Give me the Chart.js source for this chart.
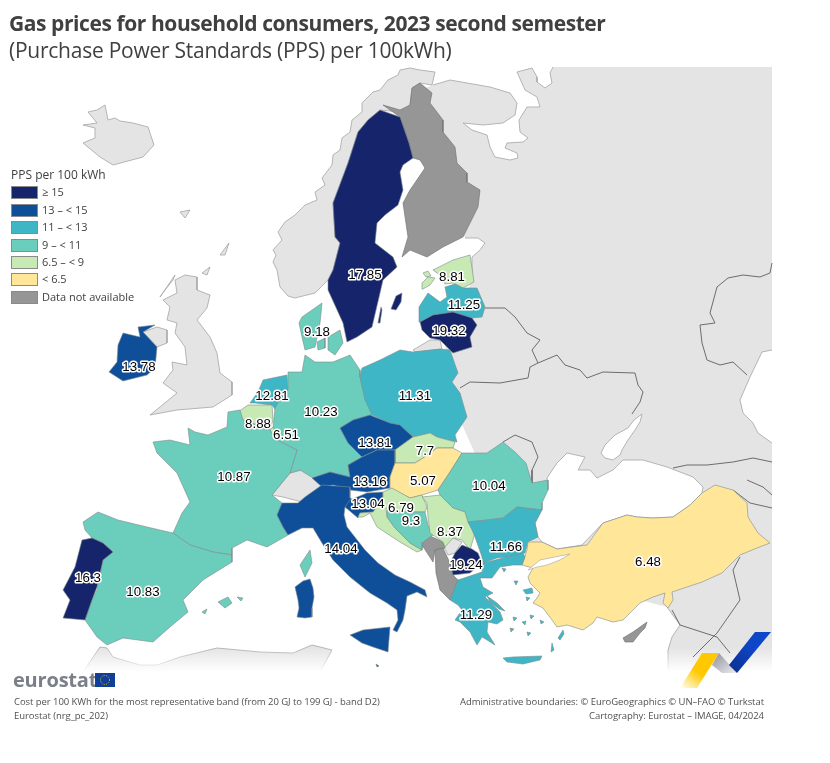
<!DOCTYPE html>
<html>
<head>
<meta charset="utf-8">
<title>Gas prices for household consumers</title>
<script src="https://cdn.jsdelivr.net/npm/chart.js@4"></script>
<style>
    body { margin: 0; background: #fff; font-family: "Open Sans", sans-serif; color: #404040; }
    #page { position: relative; width: 830px; height: 763px; overflow: hidden; }
    #map { position: absolute; left: 0; top: 0; }
    .txt { position: absolute; white-space: nowrap; }
    #title { left: 9px; top: 9px; font-size: 21px; font-weight: 700; letter-spacing: -0.42px; }
    #subtitle { left: 9px; top: 36px; font-size: 21px; letter-spacing: -0.25px; }
    #legendTitle { left: 11px; top: 166px; font-size: 12px; }
    .swatch { position: absolute; left: 11px; width: 25px; height: 11px; border: 1px solid #8a8a8a; }
    .legendText { left: 42px; font-size: 11px; }
    .foot { font-size: 9.5px; color: #505050; letter-spacing: -0.06px; }
    #brand { left: 13px; top: 666px; font-size: 20px; font-weight: 700; color: #7b7f8a; letter-spacing: -0.2px; }
</style>
</head>
<body>
<div id="page">
    <canvas id="map" width="830" height="763"></canvas>
    <div class="txt" id="title">Gas prices for household consumers, 2023 second semester</div>
    <div class="txt" id="subtitle">(Purchase Power Standards (PPS) per 100kWh)</div>
    <div class="txt" id="legendTitle">PPS per 100 kWh</div>
    <div id="legend"></div>
    <div class="txt" id="brand">eurostat</div>
    <svg style="position:absolute;left:95px;top:673px" width="20" height="14">
        <rect width="20" height="14" fill="#0f3f96"/>
        <circle cx="10" cy="7" r="4.5" fill="none" stroke="#e8c020" stroke-width="1" stroke-dasharray="1 1.4"/>
    </svg>
    <div class="txt foot" style="left:14px;top:695px">Cost per 100 KWh for the most representative band (from 20 GJ to 199 GJ - band D2)</div>
    <div class="txt foot" style="left:14px;top:709px">Eurostat (nrg_pc_202)</div>
    <div class="txt foot" style="right:66px;top:695px">Administrative boundaries: © EuroGeographics © UN–FAO © Turkstat</div>
    <div class="txt foot" style="right:66px;top:709px">Cartography: Eurostat – IMAGE, 04/2024</div>
    <svg style="position:absolute;left:675px;top:630px" width="100" height="60">
        <defs>
            <linearGradient id="yel" x1="0" y1="1" x2="0.6" y2="0.3">
                <stop offset="0" stop-color="#ffcc00" stop-opacity="0"/>
                <stop offset="0.7" stop-color="#ffc800"/>
            </linearGradient>
            <linearGradient id="gry" x1="0" y1="0" x2="1" y2="1">
                <stop offset="0" stop-color="#8d8f96"/>
                <stop offset="1" stop-color="#eceef2"/>
            </linearGradient>
            <linearGradient id="blu" x1="0" y1="1" x2="1" y2="0">
                <stop offset="0" stop-color="#0c2f8c"/>
                <stop offset="0.6" stop-color="#0e46c8"/>
            </linearGradient>
        </defs>
        <polygon points="5,58 27,23 44,23 22,58" fill="url(#yel)"/>
        <polygon points="37,35 44,23 62,43 47,43" fill="url(#gry)"/>
        <polygon points="54,35 80,2 96,2 62,43" fill="url(#blu)"/>
    </svg>
</div>

<script>
// Legend classes
const legendLabels = ['≥ 15', '13 – < 15', '11 – < 13', '9 – < 11', '6.5 – < 9', '< 6.5', 'Data not available'];
const legendColors = ['#16256b', '#0f4f9a', '#3fb6c6', '#6bcdbb', '#c7e9b4', '#ffe699', '#969696'];
const classLimits = [15, 13, 11, 9, 6.5, 0];

// Values printed on the map
const countryNames = ['Sweden', 'Estonia', 'Latvia', 'Lithuania', 'Denmark', 'Ireland', 'Netherlands', 'Germany', 'Poland', 'Czechia', 'Belgium', 'Luxembourg', 'Slovakia', 'Austria', 'Hungary', 'France', 'Slovenia', 'Croatia', 'Bosnia', 'Romania', 'Serbia', 'Bulgaria', 'North Macedonia', 'Turkey', 'Italy', 'Portugal', 'Spain', 'Greece'];
const countryValues = [17.85, 8.81, 11.25, 19.32, 9.18, 13.78, 12.81, 10.23, 11.31, 13.81, 8.88, 6.51, 7.7, 13.16, 5.07, 10.87, 13.04, 6.79, 9.3, 10.04, 8.37, 11.66, 19.24, 6.48, 14.04, 16.3, 10.83, 11.29];
const labelX = [365, 452, 464, 449, 317, 139, 272, 321, 415, 375, 258, 286, 425, 370, 423, 234, 368, 401, 411, 489, 450, 506, 466, 648, 341, 88, 143, 476];
const labelY = [275, 277, 305, 331, 332, 367, 396, 412, 396, 443, 424, 435, 451, 482, 481, 477, 504, 508, 521, 486, 532, 547, 565, 562, 549, 578, 592, 615];

// Outlines
const kolaCoast = [[433,85],[450,80],[467,83],[490,87],[510,93],[517,103],[515,115],[503,123],[483,125],[463,123],[472,130],[487,135],[490,147],[495,157],[510,160],[518,158],[517,153],[505,148],[507,143],[523,142],[528,138],[520,132],[519,120],[527,107],[540,107],[537,97],[525,90],[517,72],[532,68],[537,77],[537,82],[545,88],[552,83],[550,73],[553,67]];
const caspianCoast = [[772,350],[762,352],[750,377],[740,400],[743,413],[753,423],[758,433],[772,443]];
const levantCoast = [[668,672],[668,650],[672,637],[680,625],[667,607]];
const gulfCoast = [[472,280],[472,257],[480,250],[485,243],[478,238],[465,238]];
const eastLand = [...kolaCoast, [772,67], ...caspianCoast, [772,672], ...levantCoast, [640,600],[560,570],[500,510],[460,420],[445,345], ...gulfCoast, [440,180],[420,90]];
const africa = [[83,672],[100,647],[107,648],[113,657],[140,665],[157,665],[180,657],[217,648],[260,652],[293,653],[312,645],[332,650],[320,672]];
const iceland = [[88,112],[97,110],[105,105],[108,120],[115,118],[120,121],[133,123],[148,127],[154,145],[143,157],[113,165],[100,157],[83,143],[95,138],[95,128],[83,125],[97,123]];
const faroes = [[180,212],[190,210],[185,218]];
const shetland = [[220,255],[229,243],[225,255]];
const orkney = [[202,273],[210,267],[207,275]];
const hebrides = [[160,297],[175,275],[173,280],[165,290]];
const britain = [[185,275],[197,277],[197,290],[210,295],[207,308],[197,320],[210,337],[217,353],[220,373],[232,382],[232,395],[213,407],[177,410],[150,415],[160,407],[177,393],[163,383],[173,370],[172,362],[187,365],[185,347],[175,333],[177,323],[167,320],[170,307],[163,300],[177,293],[175,280]];
const northernIreland = [[143,332],[157,327],[167,330],[167,343],[157,347]];
const norway = [[295,298],[288,296],[280,287],[277,270],[273,262],[276,255],[273,250],[282,240],[278,232],[285,222],[295,215],[305,205],[317,200],[315,192],[325,185],[322,178],[332,165],[333,155],[340,150],[342,138],[350,132],[352,120],[362,112],[362,103],[373,92],[380,90],[388,80],[398,75],[400,70],[410,68],[420,70],[435,72],[432,85],[420,83],[412,88],[410,105],[400,112],[380,110],[368,120],[358,132],[348,163],[333,203],[335,237],[340,243],[333,270],[328,280],[315,293]];
const switzerland = [[272,495],[290,473],[302,470],[312,475],[322,485],[307,497],[302,502],[283,497]];
const kosovo = [[443,545],[453,538],[462,542],[455,553],[448,555]];
const kaliningrad = [[413,350],[430,340],[440,340],[442,349],[415,352]];

const blackSea = [[538,537],[535,523],[540,513],[542,503],[540,497],[548,487],[547,478],[557,463],[567,453],[585,457],[578,470],[590,470],[597,478],[613,470],[623,460],[643,460],[667,467],[693,477],[703,487],[702,493],[690,505],[673,517],[653,518],[637,517],[627,515],[603,523],[582,545],[557,549],[542,542]];
const azov = [[642,414],[634,420],[628,428],[615,435],[605,445],[601,453],[605,458],[613,460],[620,455],[622,450],[628,440],[635,430],[640,422]];
const marmara = [[528,570],[540,560],[555,557],[570,554],[560,560],[547,565],[537,567]];

// Borders of the countries outside the map's data
const borderBaltic = [[485,308],[505,308],[515,317],[527,333],[540,340],[532,350],[538,363],[557,355],[565,365],[580,370],[587,378],[603,372],[635,373],[638,385],[643,392],[640,402],[632,414]];
const borderBelarus = [[538,363],[530,367],[528,378],[500,383],[470,382],[460,388]];
const borderKazakh = [[772,263],[770,273],[760,277],[743,275],[728,278],[717,287],[710,313],[715,323],[700,325],[702,343],[707,360],[720,365],[733,362],[747,375]];
const borderMoldova = [[503,442],[515,435],[532,442],[538,457],[532,470],[532,483]];
const borderCaucasus = [[673,468],[687,465],[707,465],[733,462],[753,458],[772,462]];
const borderArmenia = [[747,480],[763,487],[772,495]];
const borderIran = [[733,490],[750,503],[772,508]];
const borderSyria = [[740,557],[733,570],[740,600],[717,633],[693,657]];
const borderIsrael = [[672,610],[680,625],[717,637],[730,653]];

const sweden = [[380,110],[400,117],[409,143],[413,158],[403,165],[400,172],[403,190],[398,205],[385,215],[377,223],[375,243],[393,257],[397,267],[383,280],[380,293],[372,327],[357,337],[347,342],[343,323],[328,290],[328,280],[333,270],[340,243],[335,237],[333,203],[348,163],[358,132],[368,120]];
const gotland = [[391,309],[396,296],[402,293],[401,302],[396,310]];
const oland = [[381,307],[378,323],[380,323],[382,310]];
const finland = [[420,83],[432,93],[430,103],[443,120],[443,132],[455,147],[457,163],[467,173],[467,182],[480,190],[478,207],[463,237],[443,247],[427,257],[410,250],[402,257],[408,237],[403,203],[410,190],[425,168],[420,160],[413,158],[409,143],[400,117],[383,105],[400,110],[410,105],[412,88]];
const estonia = [[433,270],[453,260],[470,255],[472,268],[474,282],[463,288],[453,283],[445,284],[440,275]];
const saaremaa = [[422,283],[428,277],[435,278],[430,285],[423,289]];
const hiiumaa = [[423,273],[428,271],[431,276],[426,277]];
const latvia = [[445,287],[455,284],[463,288],[477,288],[485,307],[482,317],[472,318],[453,312],[433,315],[420,322],[419,307],[428,293],[440,302],[447,297]];
const lithuania = [[420,322],[433,315],[453,312],[472,318],[477,325],[470,337],[472,347],[453,353],[440,340],[430,338],[422,330]];
const denmark = [[302,317],[322,303],[320,323],[315,347],[305,350],[302,337],[299,323]];
const zealand = [[328,337],[340,330],[343,343],[335,355],[328,350]];
const funen = [[317,342],[325,338],[325,348],[318,350]];
const ireland = [[138,327],[155,325],[143,332],[157,347],[155,368],[147,375],[123,381],[109,372],[117,362],[118,345],[123,333],[140,337]];
const netherlands = [[263,380],[287,375],[288,390],[278,403],[277,412],[272,405],[255,403],[250,403],[258,392]];
const germany = [[288,372],[302,372],[305,355],[315,362],[333,362],[350,355],[360,370],[360,377],[365,397],[372,415],[353,420],[340,428],[348,443],[362,457],[348,465],[350,477],[330,472],[313,478],[300,470],[290,473],[297,450],[280,445],[267,438],[273,428],[275,408],[278,403],[288,390]];
const poland = [[362,368],[380,360],[400,350],[413,352],[440,349],[450,350],[458,373],[452,382],[460,393],[467,417],[455,435],[457,442],[437,437],[430,433],[413,437],[400,425],[390,423],[372,415],[365,400],[360,377]];
const czechia = [[340,428],[353,420],[370,415],[390,423],[400,425],[413,437],[395,450],[377,450],[362,457],[348,443]];
const belgium = [[238,412],[248,405],[272,405],[273,420],[270,430],[263,427],[243,420]];
const luxembourg = [[270,430],[273,427],[278,438],[275,440]];
const slovakia = [[395,450],[413,437],[430,433],[437,437],[455,442],[453,448],[437,448],[423,458],[415,463],[395,463]];
const austria = [[377,450],[395,450],[395,463],[390,477],[390,488],[367,492],[350,490],[333,485],[322,487],[312,478],[330,472],[350,477],[348,465],[362,457]];
const hungary = [[395,463],[415,463],[423,458],[437,448],[453,448],[462,453],[450,472],[438,490],[422,495],[410,498],[390,488],[390,477]];
const france = [[153,442],[170,440],[190,445],[188,428],[195,432],[208,435],[227,427],[228,412],[240,410],[243,420],[270,430],[277,440],[297,450],[290,473],[272,495],[282,503],[278,515],[283,527],[288,535],[267,547],[247,540],[232,548],[232,555],[213,552],[190,545],[173,533],[182,513],[190,502],[177,473],[157,453]];
const corsica = [[310,550],[312,563],[305,577],[300,565]];
const slovenia = [[350,500],[367,493],[383,492],[383,500],[373,512],[360,513],[358,518],[345,507]];
const croatia = [[383,492],[392,488],[410,498],[422,495],[427,507],[425,512],[403,512],[386,508],[387,517],[395,528],[410,543],[422,550],[417,552],[400,542],[377,527],[370,513],[363,517],[358,517],[360,513],[373,512],[383,500]];
const bosnia = [[387,510],[403,512],[425,512],[428,525],[433,535],[423,542],[422,550],[410,543],[395,528],[387,517]];
const romania = [[462,453],[487,453],[503,442],[515,452],[526,463],[532,483],[548,480],[548,490],[542,503],[542,510],[517,507],[503,518],[487,520],[468,522],[465,512],[453,508],[440,495],[438,490],[450,472]];
const serbia = [[422,497],[440,495],[453,508],[465,512],[468,522],[475,533],[470,550],[462,540],[453,538],[445,547],[443,542],[430,533],[428,517],[427,503]];
const montenegro = [[422,545],[428,535],[443,542],[445,548],[435,550],[433,562]];
const albania = [[435,550],[443,548],[450,563],[453,575],[458,580],[450,600],[440,590],[436,573]];
const bulgaria = [[468,522],[487,520],[503,518],[517,507],[542,510],[535,523],[538,537],[528,542],[525,553],[507,557],[497,558],[483,563],[482,557],[475,537],[472,530]];
const macedonia = [[455,553],[462,545],[472,549],[478,553],[482,563],[470,573],[453,575],[450,563]];
const turkey = [[522,565],[527,550],[528,542],[542,542],[557,549],[587,545],[603,523],[627,515],[637,517],[653,518],[673,517],[690,505],[702,493],[715,485],[733,490],[747,503],[748,517],[758,533],[770,543],[757,548],[740,555],[722,573],[702,582],[687,587],[672,592],[673,600],[668,608],[663,603],[665,593],[653,597],[640,603],[623,620],[613,622],[597,617],[593,623],[583,630],[567,625],[557,627],[552,620],[543,608],[533,603],[537,598],[540,593],[530,583],[528,577],[533,568]];
const italy = [[277,515],[282,503],[298,503],[305,497],[322,485],[350,487],[350,498],[360,503],[345,507],[344,515],[347,527],[365,550],[378,563],[395,575],[410,582],[425,590],[427,597],[417,592],[407,596],[405,610],[403,620],[397,632],[393,630],[398,620],[397,610],[387,603],[370,593],[350,577],[333,560],[322,543],[313,528],[302,528],[288,535],[283,527]];
const sicily = [[350,635],[363,630],[390,627],[388,652],[373,647],[362,643]];
const sardinia = [[295,587],[303,581],[310,579],[313,588],[314,597],[312,608],[312,617],[305,618],[297,617],[299,608],[298,600]];
const portugal = [[92,538],[103,543],[113,552],[103,560],[97,587],[92,600],[85,620],[63,618],[70,600],[63,590],[75,567],[82,540]];
const spain = [[83,522],[98,512],[118,520],[147,527],[173,533],[190,545],[213,552],[232,555],[232,562],[203,580],[183,600],[188,612],[170,627],[153,642],[123,638],[107,645],[97,637],[85,620],[92,600],[97,590],[103,560],[113,552],[103,543],[92,538],[85,530]];
const mallorca = [[218,602],[228,597],[232,603],[225,608]];
const menorca = [[237,597],[243,598],[241,601]];
const ibiza = [[202,612],[207,609],[205,614]];
const greece = [[450,600],[458,580],[482,572],[483,563],[507,557],[523,553],[525,557],[522,565],[513,565],[500,567],[492,578],[480,578],[483,587],[493,593],[485,597],[500,612],[503,620],[497,624],[488,622],[487,632],[495,645],[487,640],[482,637],[477,645],[470,632],[460,622],[455,620],[462,610],[458,605]];
const crete = [[503,658],[513,657],[542,656],[540,660],[523,664],[507,662]];
const lesbos = [[523,590],[532,588],[533,593],[526,594]];
const rhodes = [[558,638],[563,630],[564,634],[560,640]];
const evia = [[487,596],[497,603],[505,611],[499,609],[490,602]];
const greekIslets = [[[502,568],[506,569],[504,572]], [[514,581],[518,581],[516,585]], [[526,597],[530,598],[527,601]], [[513,617],[517,618],[514,621]], [[522,622],[526,621],[525,625]], [[530,615],[534,616],[531,619]], [[510,628],[514,629],[511,632]], [[540,620],[544,622],[541,624]], [[552,643],[554,650],[551,652]], [[527,632],[531,633],[528,636]]];
const cyprus = [[623,638],[633,632],[647,622],[645,628],[640,633],[633,642],[625,642]];
const malta = [[376,664],[379,666],[377,667]];

const landColor = '#e4e4e4';
const coastColor = '#a5a5a5';
const borderColor = '#6d6d6d';
const outlineColor = '#7d8c8c';

function valueColor(value) {
    const index = classLimits.findIndex(limit => value >= limit);
    return legendColors[index];
}

function toPoints(outline) {
    const points = outline.map(p => ({ x: p[0], y: p[1] }));
    points.push(points[0]);
    return points;
}

function shape(outline, fillColor, lineColor, lineWidth) {
    return {
        data: toPoints(outline),
        showLine: true,
        fill: 'shape',
        backgroundColor: fillColor,
        borderColor: lineColor,
        borderWidth: lineWidth,
        pointRadius: 0,
        tension: 0
    };
}

function line(points, color, width) {
    return {
        data: points.map(p => ({ x: p[0], y: p[1] })),
        showLine: true,
        fill: false,
        borderColor: color,
        borderWidth: width || 1,
        pointRadius: 0,
        tension: 0
    };
}

function country(name, outlines) {
    const color = valueColor(countryValues[countryNames.indexOf(name)]);
    return outlines.map(o => shape(o, color, outlineColor, 0.6));
}

// Land fades out at the bottom of the frame
function fadeGradient(ctx, color, clear) {
    const gradient = ctx.createLinearGradient(0, 648, 0, 672);
    gradient.addColorStop(0, color);
    gradient.addColorStop(1, clear);
    return gradient;
}

// Value labels with a white halo, placed through the scales
const valueLabels = {
    id: 'valueLabels',
    afterDatasetsDraw(chart) {
        const { ctx, scales } = chart;
        ctx.save();
        ctx.font = '13.3px "Liberation Sans", Arial, sans-serif';
        ctx.textAlign = 'center';
        ctx.textBaseline = 'middle';
        ctx.lineJoin = 'round';
        countryValues.forEach((value, i) => {
            const x = scales.x.getPixelForValue(labelX[i]);
            const y = scales.y.getPixelForValue(labelY[i]);
            ctx.strokeStyle = '#fff';
            ctx.lineWidth = 3;
            ctx.strokeText(String(value), x, y);
            ctx.fillStyle = '#000';
            ctx.fillText(String(value), x, y);
        });
        ctx.restore();
    }
};

function renderLegend() {
    const legend = document.getElementById('legend');
    const rows = [186, 204, 221, 239, 256, 273, 291];
    legendLabels.forEach((label, i) => {
        const box = document.createElement('div');
        box.className = 'swatch';
        box.style.top = rows[i] + 'px';
        box.style.background = legendColors[i];
        legend.appendChild(box);
        const text = document.createElement('div');
        text.className = 'txt legendText';
        text.style.top = (rows[i] - 2) + 'px';
        text.textContent = label;
        legend.appendChild(text);
    });
}

function renderMap() {
    const canvas = document.getElementById('map');
    const ctx = canvas.getContext('2d');
    const fadeFill = fadeGradient(ctx, landColor, 'rgba(228,228,228,0)');
    const fadeLine = fadeGradient(ctx, coastColor, 'rgba(165,165,165,0)');
    const grey = legendColors[6];

    // Bottom layer first, reversed below because Chart.js paints dataset 0 last
    const layers = [
        shape(eastLand, fadeFill, 'rgba(0,0,0,0)', 0),
        line(kolaCoast, coastColor, 0.8),
        line(caspianCoast, coastColor, 0.8),
        line(levantCoast, fadeLine, 0.8),
        line(gulfCoast, coastColor, 0.8),
        shape(africa, fadeFill, fadeLine, 0.8),
        shape(blackSea, '#fff', coastColor, 0.8),
        shape(azov, '#fff', coastColor, 0.8),
        line(borderBaltic, borderColor),
        line(borderBelarus, borderColor),
        line(borderKazakh, borderColor),
        line(borderMoldova, borderColor),
        line(borderCaucasus, borderColor),
        line(borderArmenia, borderColor),
        line(borderIran, borderColor),
        line(borderSyria, borderColor),
        line(borderIsrael, borderColor),
        ...[iceland, faroes, shetland, orkney, hebrides, britain, northernIreland, norway, switzerland, kosovo, kaliningrad]
            .map(o => shape(o, landColor, coastColor, 0.8)),
        ...[finland, montenegro, albania, cyprus].map(o => shape(o, grey, '#6d6d6d', 0.6)),
        ...country('Sweden', [sweden, gotland, oland]),
        ...country('Estonia', [estonia, saaremaa, hiiumaa]),
        ...country('Latvia', [latvia]),
        ...country('Lithuania', [lithuania]),
        ...country('Denmark', [denmark, zealand, funen]),
        ...country('Ireland', [ireland]),
        ...country('Netherlands', [netherlands]),
        ...country('Germany', [germany]),
        ...country('Poland', [poland]),
        ...country('Czechia', [czechia]),
        ...country('Belgium', [belgium]),
        ...country('Luxembourg', [luxembourg]),
        ...country('Slovakia', [slovakia]),
        ...country('Austria', [austria]),
        ...country('Hungary', [hungary]),
        ...country('France', [france, corsica]),
        ...country('Italy', [italy, sicily, sardinia, malta]),
        ...country('Slovenia', [slovenia]),
        ...country('Croatia', [croatia]),
        ...country('Bosnia', [bosnia]),
        ...country('Romania', [romania]),
        ...country('Serbia', [serbia]),
        ...country('Bulgaria', [bulgaria]),
        ...country('North Macedonia', [macedonia]),
        ...country('Turkey', [turkey]),
        shape(marmara, '#fff', coastColor, 0.6),
        ...country('Spain', [spain, mallorca, menorca, ibiza]),
        ...country('Portugal', [portugal]),
        ...country('Greece', [greece, crete, lesbos, rhodes, evia, ...greekIslets])
    ];

    new Chart(ctx, {
        type: 'scatter',
        data: { datasets: layers.reverse() },
        plugins: [valueLabels],
        options: {
            responsive: false,
            animation: false,
            layout: { padding: 0 },
            plugins: {
                legend: { display: false },
                tooltip: { enabled: false },
                title: { display: false }
            },
            scales: {
                x: { type: 'linear', min: 0, max: 830, display: false },
                y: { type: 'linear', min: 0, max: 763, reverse: true, display: false }
            }
        }
    });
}

renderLegend();
renderMap();
</script>
</body>
</html>
